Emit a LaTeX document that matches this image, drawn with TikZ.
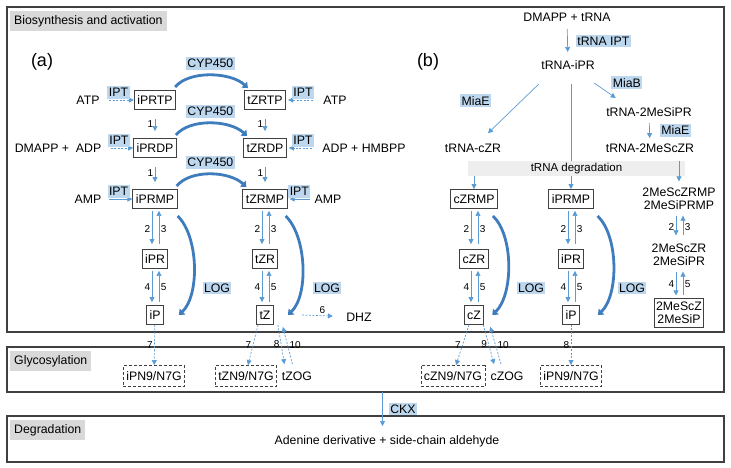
\documentclass[tikz,border=0pt]{standalone}
\usepackage{fontspec}
\setmainfont{Liberation Sans}
\usetikzlibrary{arrows.meta,calc,positioning}
\definecolor{flowblue}{HTML}{5B9BD5}
\definecolor{curveblue}{HTML}{3E7CBD}
\definecolor{enzblue}{HTML}{BDD7EE}
\definecolor{labgray}{HTML}{D9D9D9}
\definecolor{bandgray}{HTML}{EEEEEE}
\definecolor{framegray}{HTML}{404040}

\begin{document}
\begin{tikzpicture}[x=1pt,y=-1pt,font=\fontsize{12.3}{13.5}\selectfont,
    metab/.style={draw=framegray,fill=white,line width=0.9pt,inner xsep=3pt,inner ysep=0pt,minimum height=19pt},
    glyco/.style={draw=framegray,dash pattern=on 3pt off 2pt,line width=0.9pt,inner xsep=3pt,minimum height=21pt},
    enz/.style={fill=enzblue,inner xsep=1.5pt,inner ysep=2pt},
    seclabel/.style={fill=labgray,anchor=north west,inner xsep=4pt,inner ysep=4pt},
    num/.style={font=\fontsize{10}{12}\selectfont,inner sep=1.5pt},
    flow/.style={draw=flowblue,line width=0.7pt,-{Triangle[length=5pt,width=5pt]}},
    dflow/.style={flow,dash pattern=on 2pt off 1.5pt},
    bigflow/.style={draw=curveblue,line width=2.8pt,-{Triangle[length=5pt,width=8pt]}}]
\useasboundingbox (0,0) rectangle (731,468);

% Section frames
\draw[framegray,line width=1.1pt] (7,7) rectangle (724,332);
\draw[framegray,line width=1.1pt] (7,347) rectangle (724,392);
\draw[framegray,line width=1.1pt] (7,416) rectangle (724,462);
\node[seclabel] (biolab) at (10,11) {Biosynthesis and activation};
\node[seclabel] (glylab) at (10,351) {Glycosylation};
\node[seclabel] (deglab) at (10,420) {Degradation};

% Panel (a): nucleotide route
\node[font=\fontsize{18}{20}\selectfont] (panA) at (42,62) {(a)};
\node[metab] (iPRTP) at (155,100) {iPRTP};
\node[metab] (tZRTP) at (265,100) {tZRTP};
\node[metab] (iPRDP) at (155,148) {iPRDP};
\node[metab] (tZRDP) at (265,148) {tZRDP};
\node[metab] (iPRMP) at (155,199) {iPRMP};
\node[metab] (tZRMP) at (265,199) {tZRMP};
\node[metab] (iPRa) at (155,259) {iPR};
\node[metab] (tZR) at (265,259) {tZR};
\node[metab] (iPa) at (155,315) {iP};
\node[metab] (tZ) at (265,315) {tZ};

% Substrates of IPT
\node (atpL) at (88,100) {ATP};
\node (dmappL) at (58,148) {DMAPP +\ \ ADP};
\node (ampL) at (88,199) {AMP};
\node (atpR) at (335,100) {ATP};
\node (hmbppR) at (364,148) {ADP + HMBPP};
\node (ampR) at (328,199) {AMP};
\draw[dflow,shorten <=6pt] (atpL) -- node[enz,above=1pt] (iptA) {IPT} (iPRTP);
\draw[dflow,shorten <=6pt] (dmappL) -- node[enz,above=1pt] (iptB) {IPT} (iPRDP);
\draw[flow,shorten <=4pt] (ampL) -- node[enz,above=1pt] (iptC) {IPT} (iPRMP);
\draw[dflow,shorten <=7pt,shorten >=2pt] (atpR) -- node[enz,above=1pt] (iptD) {IPT} (tZRTP);
\draw[dflow,shorten <=7pt,shorten >=2pt] (hmbppR) -- node[enz,above=1pt] (iptE) {IPT} (tZRDP);
\draw[flow,shorten <=1pt,shorten >=2pt] (ampR) -- node[enz,above=1pt] (iptF) {IPT} (tZRMP);

% Phosphate removal
\foreach \src/\dst in {iPRTP/iPRDP, iPRDP/iPRMP, tZRTP/tZRDP, tZRDP/tZRMP}{
  \draw[flow,shorten <=9pt,shorten >=7pt] (\src) -- node[num,left] {1} (\dst);
}

% CYP450 hydroxylation
\draw[bigflow] ([xshift=-1pt,yshift=3pt]iPRTP.north east) .. controls +(14,-17) and +(-17,-16) ..
  node[enz,above=4pt] (cypA) {CYP450} ([xshift=4pt,yshift=2pt]tZRTP.north west);
\draw[bigflow] ([xshift=-1pt,yshift=3pt]iPRDP.north east) .. controls +(14,-17) and +(-17,-16) ..
  node[enz,above=4pt] (cypB) {CYP450} ([xshift=4pt,yshift=2pt]tZRDP.north west);
\draw[bigflow] ([xshift=-1pt,yshift=3pt]iPRMP.north east) .. controls +(14,-17) and +(-17,-16) ..
  node[enz,above=4pt] (cypC) {CYP450} ([xshift=4pt,yshift=2pt]tZRMP.north west);

\node (DHZ) at (359,317) {DHZ};
\draw[dflow,shorten >=10pt] ([xshift=28pt]tZ.east) -- node[num,above] {6} (DHZ);

% Panel (b): tRNA route
\node[font=\fontsize{18}{20}\selectfont] (panB) at (428,62) {(b)};
\node (dmappT) at (567,17) {DMAPP + tRNA};
\node (trnaiPR) at (568,65) {tRNA-iPR};
\node (trna2MeSiPR) at (649,112) {tRNA-2MeSiPR};
\node (trna2MeScZR) at (650,148) {tRNA-2MeScZR};
\node (trnacZR) at (473,148) {tRNA-cZR};
\draw[flow,shorten <=4pt,shorten >=5pt] (dmappT) -- node[enz,right=8pt] (tipt) {tRNA IPT} (trnaiPR);
\draw[flow] ([xshift=-4pt,yshift=-10pt]trnaiPR.south east) -- node[enz,above right=1pt and 6pt] (miab) {MiaB}
  ([xshift=13pt,yshift=6pt]trna2MeSiPR.north west);
\draw[flow] ([xshift=1pt,yshift=-11pt]trnaiPR.south west) -- node[enz,above left=1pt and 22pt] (miaeA) {MiaE}
  ([xshift=15pt,yshift=7pt]trnacZR.north);
\draw[flow,shorten <=3pt,shorten >=2pt] (trna2MeSiPR) -- node[enz,right=10pt] (miaeB) {MiaE} (trna2MeScZR);

\node[fill=bandgray,minimum width=217pt,minimum height=15pt,inner sep=0pt,
  font=\fontsize{11.5}{13}\selectfont] (degband) at (576.5,168.5) {tRNA degradation};

\node[metab] (cZRMP) at (474,199) {cZRMP};
\node[metab] (iPRMPb) at (571,199) {iPRMP};
\node[align=center] (rmpMe) at (679,199) {2MeScZRMP\\2MeSiPRMP};
\node[metab] (cZR) at (474,259) {cZR};
\node[metab] (iPRb) at (571,259) {iPR};
\node[align=center] (ribMe) at (679,255) {2MeScZR\\2MeSiPR};
\node[metab] (cZ) at (474,315) {cZ};
\node[metab] (iPb) at (571,315) {iP};
\node[metab,align=center,inner xsep=2pt,inner ysep=3pt] (baseMe) at (679,313) {2MeScZ\\2MeSiP};

\draw[flowblue,line width=0.7pt] ($(trnaiPR.south -| iPRMPb)+(0,11)$) -- (degband.north -| iPRMPb);
\draw[flow] (degband.south -| iPRMPb) -- (iPRMPb);
\draw[flow] (degband.south -| cZRMP) -- (cZRMP);
\draw[flow,shorten >=3pt] (degband.north -| rmpMe) -- (rmpMe);

% Riboside steps
\foreach \rmp/\rib/\base in {iPRMP/iPRa/iPa, tZRMP/tZR/tZ, cZRMP/cZR/cZ, iPRMPb/iPRb/iPb, rmpMe/ribMe/baseMe}{
  \draw[flow,shorten <=2pt,shorten >=5pt] ([xshift=-3pt]\rmp.south) -- node[num,left] {2} ([xshift=-3pt]\rib.north);
  \draw[flow,shorten <=5pt,shorten >=2pt] ([xshift=4pt]\rib.north) -- node[num,right] {3} ([xshift=4pt]\rmp.south);
  \draw[flow,shorten <=2pt,shorten >=3pt] ([xshift=-3pt]\rib.south) -- node[num,left] {4} ([xshift=-3pt]\base.north);
  \draw[flow,shorten <=3pt,shorten >=2pt] ([xshift=4pt]\base.north) -- node[num,right] {5} ([xshift=4pt]\rib.south);
}

% LOG activation
\foreach \rmp/\base/\sx/\ex in {iPRMP/iPa/0/15, tZRMP/tZ/-2/14, cZRMP/cZ/-5/8, iPRMPb/iPb/4/18}{
  \draw[bigflow] ([xshift=\sx pt,yshift=-7pt]\rmp.south east) .. controls +(21,20) and +(21,-20) .. ([xshift=\ex pt]\base.east);
}
\node[enz] (logA) at (217,288) {LOG};
\node[enz] (logB) at (327,288) {LOG};
\node[enz] (logC) at (531,288) {LOG};
\node[enz] (logD) at (632,288) {LOG};

% Glycosylation
\node[glyco] (iPNa) at (154,376) {iPN9/N7G};
\node[glyco] (tZN) at (246,376) {tZN9/N7G};
\node (tZOG) at (297,376) {tZOG};
\node[glyco] (cZN) at (453,376) {cZN9/N7G};
\node (cZOG) at (507,376) {cZOG};
\node[glyco] (iPNb) at (571,376) {iPN9/N7G};

\draw[dflow] (iPa) -- node[num,left] {7} (iPNa);
\draw[dflow] ([xshift=-7pt]tZ.south) -- node[num,left] {7} ([xshift=2pt]tZN.north);
\draw[dflow] ([xshift=4pt]tZ.south east) -- node[num,left] {8} ([xshift=6pt,yshift=4pt]tZOG.north west);
\draw[dflow] ([xshift=14pt,yshift=4pt]tZOG.north west) -- node[num,right] {10} ([xshift=9pt,yshift=-2pt]tZ.south east);
\draw[dflow] ([xshift=-5pt]cZ.south) -- node[num,left] {7} ([xshift=3pt]cZN.north);
\draw[dflow] ([xshift=-1pt]cZ.south east) -- node[num,left] {9} ([xshift=7pt,yshift=4pt]cZOG.north west);
\draw[dflow] ([xshift=14pt,yshift=4pt]cZOG.north west) -- node[num,right] {10} ([xshift=6pt,yshift=-2pt]cZ.south east);
\draw[dflow] (iPb) -- node[num,left] {8} (iPNb);

% Degradation
\node (adenine) at (387,441) {Adenine derivative + side-chain aldehyde};
\coordinate (ckxtop) at (382.5,392);
\coordinate (ckxend) at (382.5,426);
\draw[flow] (ckxtop) -- node[enz,right=6pt] (ckx) {CKX} (ckxend);

\end{tikzpicture}
\end{document}
